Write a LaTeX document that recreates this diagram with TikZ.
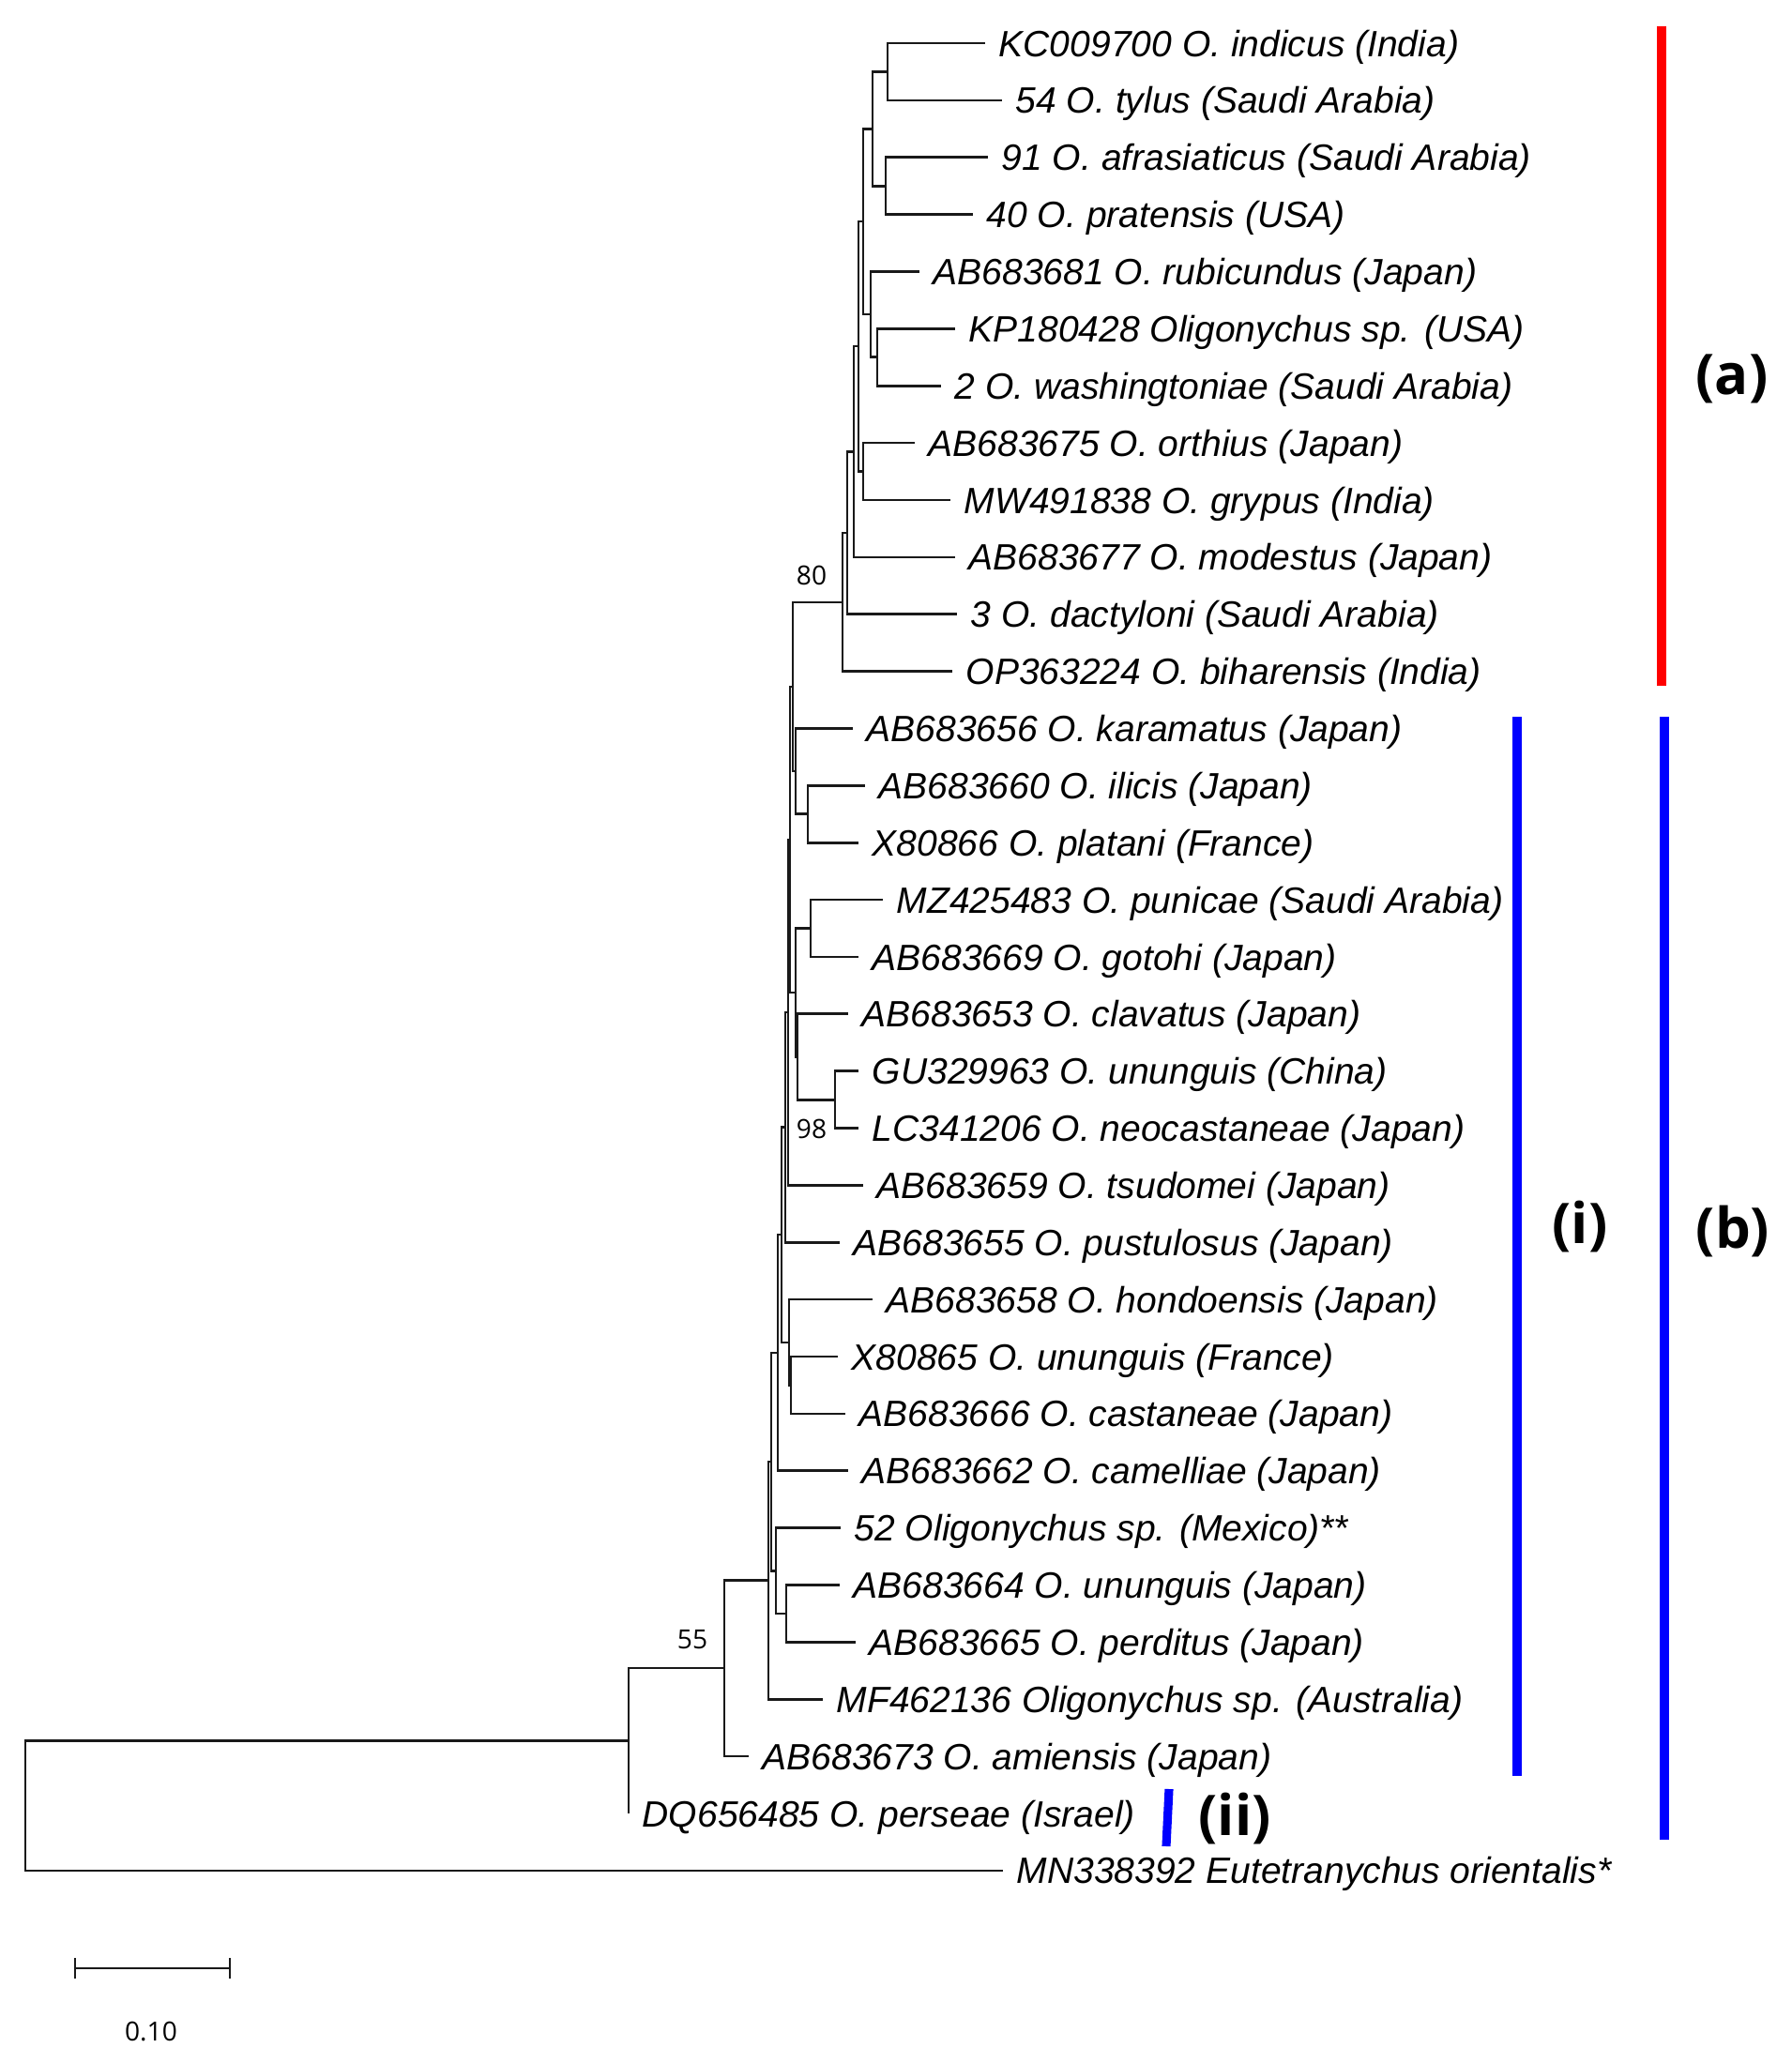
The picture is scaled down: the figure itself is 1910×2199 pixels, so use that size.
\documentclass[tikz,border=0pt]{standalone}
\usepackage{fontspec}
\setmainfont{Liberation Sans}
\newfontfamily\bootfont{Open Sans}
\usetikzlibrary{arrows}

\begin{document}
\begin{tikzpicture}[x=0.01cm,y=-0.01cm,
  branch/.style={line width=0.75pt,black!90},
  leaf/.style={anchor=west,inner xsep=4pt,inner ysep=0pt,text height=8pt,text depth=0pt,
    font=\fontsize{11.1}{13}\selectfont\itshape},
  boot/.style={inner sep=0pt,font=\bootfont\fontsize{8}{10}\selectfont},
  clade/.style={inner sep=0pt,font=\bootfont\bfseries\fontsize{17}{20}\selectfont},
  cladebar/.style={line width=2.6pt}]
\useasboundingbox (0,0) rectangle (1910,2199);

% internal nodes, clade (a)
\coordinate (n1) at (946,76.5);
\coordinate (n2) at (944,198.5);
\coordinate (n3) at (930,137.5);
\coordinate (n4) at (935,380.5);
\coordinate (n5) at (928,335);
\coordinate (n6) at (920,236);
\coordinate (n7) at (920,502.5);
\coordinate (n8) at (915,369);
\coordinate (n9) at (910,481.5);
\coordinate (n10) at (903,568);
\coordinate (n11) at (898,642);
% internal nodes, clade (b)
\coordinate (ip) at (861,867.5);
\coordinate (ka) at (848,822);
\coordinate (s1) at (845,732);
\coordinate (pg) at (864,989.5);
\coordinate (gl) at (890,1172.5);
\coordinate (c2) at (850,1127);
\coordinate (rr) at (848,1058);
\coordinate (s2) at (842,895);
\coordinate (s3) at (840,1079);
\coordinate (s4) at (837,1201.5);
\coordinate (xc) at (843,1476.5);
\coordinate (ho) at (841,1431);
\coordinate (s5) at (833,1316);
\coordinate (s6) at (829,1442);
\coordinate (pp) at (838,1720);
\coordinate (mx) at (827,1674.5);
\coordinate (s7) at (822,1558);
\coordinate (s8) at (819,1684.5);
\coordinate (n55) at (772,1778);
\coordinate (np) at (670,1855.5);
\coordinate (root) at (27,1925);

\foreach \a/\b in {n3/n1,n3/n2,n5/n4,n6/n3,n6/n5,n8/n6,n8/n7,n9/n8,n10/n9,n11/n10,
  s1/n11,ka/ip,s1/ka,rr/pg,c2/gl,rr/c2,s2/s1,s2/rr,s3/s2,s4/s3,ho/xc,s5/s4,s5/ho,
  s6/s5,mx/pp,s7/s6,s7/mx,s8/s7,n55/s8,np/n55,root/np}{
\draw[branch] (\a) |- (\b);
}

\foreach \i/\tip/\anc/\txt in {
  0/1050/n1/{KC009700 O. indicus (India)},
  1/1068/n1/{54 O. tylus (Saudi Arabia)},
  2/1053/n2/{91 O. afrasiaticus (Saudi Arabia)},
  3/1037/n2/{40 O. pratensis (USA)},
  4/980/n5/{AB683681 O. rubicundus (Japan)},
  5/1018/n4/{KP180428 Oligonychus sp. (USA)},
  6/1003/n4/{2 O. washingtoniae (Saudi Arabia)},
  7/975/n7/{AB683675 O. orthius (Japan)},
  8/1013/n7/{MW491838 O. grypus (India)},
  9/1018/n9/{AB683677 O. modestus (Japan)},
  10/1020/n10/{3 O. dactyloni (Saudi Arabia)},
  11/1015/n11/{OP363224 O. biharensis (India)},
  12/909/ka/{AB683656 O. karamatus (Japan)},
  13/922/ip/{AB683660 O. ilicis (Japan)},
  14/915/ip/{X80866 O. platani (France)},
  15/941/pg/{MZ425483 O. punicae (Saudi Arabia)},
  16/915/pg/{AB683669 O. gotohi (Japan)},
  17/904/c2/{AB683653 O. clavatus (Japan)},
  18/915/gl/{GU329963 O. ununguis (China)},
  19/915/gl/{LC341206 O. neocastaneae (Japan)},
  20/920/s3/{AB683659 O. tsudomei (Japan)},
  21/895/s4/{AB683655 O. pustulosus (Japan)},
  22/930/ho/{AB683658 O. hondoensis (Japan)},
  23/893/xc/{X80865 O. ununguis (France)},
  24/901/xc/{AB683666 O. castaneae (Japan)},
  25/904/s6/{AB683662 O. camelliae (Japan)},
  26/896/mx/{52 Oligonychus sp. (Mexico)**},
  27/895/pp/{AB683664 O. ununguis (Japan)},
  28/912/pp/{AB683665 O. perditus (Japan)},
  29/877/s8/{MF462136 Oligonychus sp. (Australia)},
  30/798/n55/{AB683673 O. amiensis (Japan)},
  31/670/np/{DQ656485 O. perseae (Israel)},
  32/1069/root/{MN338392 Eutetranychus orientalis*}}{
\pgfmathsetmacro\yy{46+60.87*\i}
\node[leaf] (l\i) at (\tip,\yy) {\txt};
\draw[branch] (\anc) |- (l\i.west);
}

\node[boot] (bs80) at (865,613) {80};
\node[boot] (bs98) at (865,1203) {98};
\node[boot] (bs55) at (738,1748) {55};

% scale bar
\coordinate (sbl) at (80,2098);
\coordinate (sbr) at (245,2098);
\draw[branch] (sbl) -- (sbr);
\draw[branch] ([yshift=-3pt]sbl) -- ([yshift=3pt]sbl);
\draw[branch] ([yshift=-3pt]sbr) -- ([yshift=3pt]sbr);
\node[boot] (sbt) at (161,2165) {0.10};

% clade bars
\draw[cladebar,red] (1771,28) -- (1771,731);
\draw[cladebar,blue] (1617,764) -- (1617,1893);
\draw[cladebar,blue] (1774,764) -- (1774,1961);
\draw[cladebar,blue] (1246,1907) -- (1243,1968);
\node[clade] (cla) at (1846,404) {(a)};
\node[clade] (clb) at (1847,1312) {(b)};
\node[clade] (cli) at (1684,1307) {(i)};
\node[clade] (clii) at (1316,1938) {(ii)};
\end{tikzpicture}
\end{document}
